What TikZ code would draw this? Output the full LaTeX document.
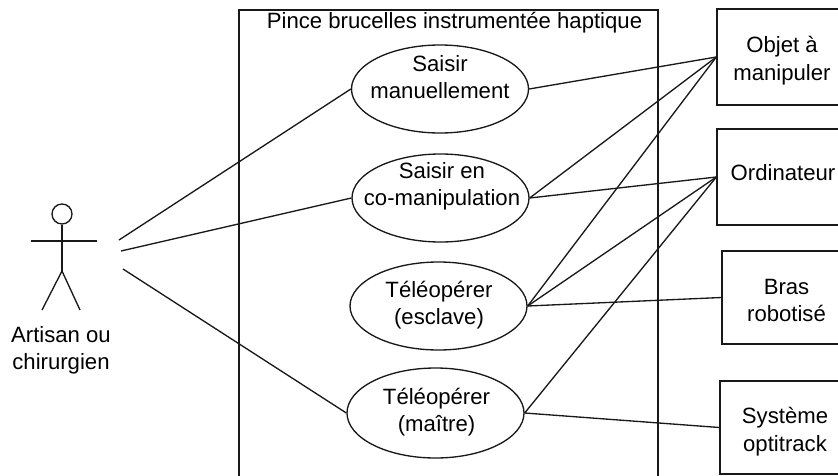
\documentclass[tikz,border=0pt]{standalone}
\usepackage{fontspec}
\setmainfont{Liberation Sans}
\usetikzlibrary{shapes.geometric}
\newcommand{\pxu}{0.75pt}
\tikzset{
  line/.style={draw=black!90,line width=1pt},
  ucase/.style={ellipse,line,inner sep=0pt,minimum width=177*\pxu,minimum height=88*\pxu},
  utext/.style={align=center,font=\fontsize{16.6}{20.6}\selectfont,inner sep=0pt,text=black},
  actorbox/.style={rectangle,line,inner sep=0pt,minimum width=130*\pxu},
}
\begin{document}
\begin{tikzpicture}[x=0.75pt,y=-0.75pt]
\useasboundingbox (0,0) rectangle (838,475);
\clip (0,0) rectangle (838,475);
% system boundary (runs past the bottom of the picture)
\node[rectangle,line,inner sep=0pt,minimum width=419*\pxu,minimum height=490*\pxu] (sysb) at (448.5,255) {};
\node[utext] (title) at (454.5,23) {Pince brucelles instrumentée haptique};
% use cases
\node[ucase] (m) at (440,89) {};
\node[utext] (mt) at (440,77) {Saisir\\manuellement};
\node[ucase] (c) at (440.5,198) {};
\node[utext] (ct) at (442,186.5) {Saisir en\\co-manipulation};
\node[ucase] (e) at (438.5,306) {};
\node[utext] (et) at (439,305) {Téléopérer\\(esclave)};
\node[ucase,minimum height=90*\pxu] (t) at (435.5,413) {};
\node[utext] (tt) at (436.5,412) {Téléopérer\\(maître)};
% external actors
\node[actorbox,minimum height=96*\pxu] (obj) at (782,57) {};
\node[utext] (objt) at (782,60.5) {Objet à\\manipuler};
\node[actorbox,minimum height=96*\pxu] (ord) at (782,177) {};
\node[utext] (ordt) at (783,173) {Ordinateur};
\node[actorbox,minimum height=93*\pxu] (bras) at (787,297.5) {};
\node[utext] (brast) at (786.5,300.5) {Bras\\robotisé};
\node[actorbox,minimum height=93*\pxu] (syst) at (785,427.5) {};
\node[utext] (systt) at (785,431.5) {Système\\optitrack};
% stick figure
\node[circle,line,inner sep=0pt,minimum size=20*\pxu] (head) at (62,214) {};
\coordinate (hip) at (62,271);
\coordinate (armL) at (31,241);
\coordinate (armR) at (97,241);
\coordinate (legL) at (42,310);
\coordinate (legR) at (80,310);
\draw[line] (head.south) -- (hip);
\draw[line] (armL) -- (armR);
\draw[line] (legL) -- (hip) -- (legR);
\node[utext] (who) at (61,350.5) {Artisan ou\\chirurgien};
% free ends of the actor's connectors
\coordinate (a1) at (119,240);
\coordinate (a2) at (121,251);
\coordinate (a3) at (123,269);
\draw[line] (a1) -- (m.west);
\draw[line] (a2) -- (c.west);
\draw[line] (a3) -- (t.west);
% connectors to the right
\draw[line] (m.east) -- (obj.west);
\draw[line] (c.east) -- (obj.west);
\draw[line] (c.east) -- (ord.west);
\draw[line] (e.east) -- (obj.west);
\draw[line] (e.east) -- (ord.west);
\draw[line] (e.east) -- (bras.west);
\draw[line] (t.east) -- (ord.west);
\draw[line] (t.east) -- (syst.west);
\end{tikzpicture}
\end{document}
